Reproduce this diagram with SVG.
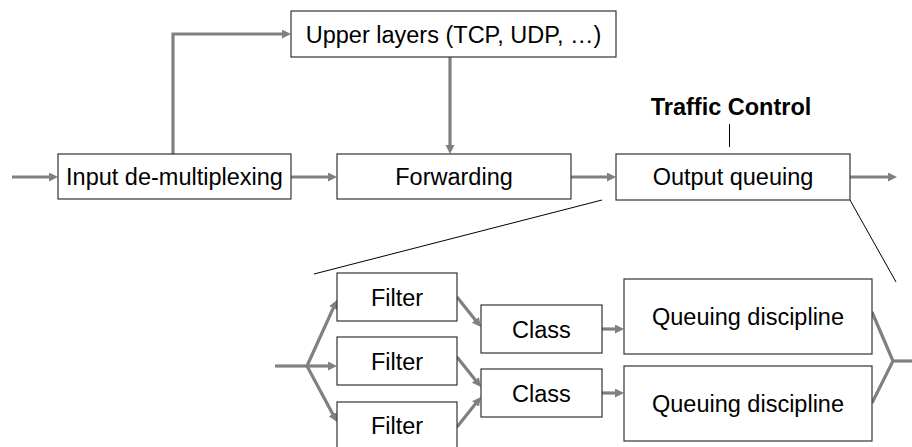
<svg xmlns="http://www.w3.org/2000/svg" width="912" height="447" viewBox="0 0 912 447">
<style>
.box{fill:#fff;stroke:#333;stroke-width:1.2}
.t{font-family:"Liberation Sans",Arial,sans-serif;font-size:23.5px;fill:#000;text-anchor:middle}
.b{font-weight:bold}
.c{fill:none;stroke:#808080;stroke-width:3.2}
.a{marker-end:url(#ah)}
.thin{fill:none;stroke:#000;stroke-width:1}
</style>
<defs>
<marker id="ah" markerUnits="userSpaceOnUse" markerWidth="10" markerHeight="10" refX="5" refY="4.5" orient="auto">
<path d="M0,0 L9,4.5 L0,9 z" fill="#808080"/>
</marker>
</defs>
<rect width="912" height="447" fill="#fff"/>
<g id="connectors">
<line class="c a" x1="12" y1="177" x2="54" y2="177"/>
<polyline class="c a" points="173,154 173,34 287,34"/>
<line class="c a" x1="450" y1="57" x2="450" y2="150"/>
<line class="c a" x1="291" y1="177" x2="333" y2="177"/>
<line class="c a" x1="571" y1="177" x2="612" y2="177"/>
<line class="c a" x1="850" y1="177" x2="893" y2="177"/>
<line class="thin" x1="729.5" y1="124" x2="729.5" y2="147"/>
<line class="thin" x1="314" y1="274" x2="602" y2="200"/>
<line class="thin" x1="850" y1="200" x2="896" y2="282"/>
<line class="c" x1="275" y1="366" x2="307" y2="366"/>
<line class="c a" x1="307" y1="366" x2="335.3" y2="303.6"/>
<line class="c a" x1="307" y1="366" x2="333" y2="366"/>
<line class="c a" x1="307" y1="366" x2="335.1" y2="418.5"/>
<line class="c a" x1="457" y1="297" x2="478.5" y2="323.9"/>
<line class="c a" x1="457" y1="357" x2="478.5" y2="383.9"/>
<line class="c a" x1="457" y1="427" x2="478.5" y2="400.1"/>
<line class="c a" x1="602" y1="329" x2="620" y2="329"/>
<line class="c a" x1="602" y1="393" x2="620" y2="393"/>
<polyline class="c" points="872,312 893,361 872,403"/>
<line class="c" x1="893" y1="361" x2="912" y2="361"/>
</g>
<g id="upper"><rect class="box" x="291" y="11" width="325" height="46"/><text class="t" x="453.5" y="42.5">Upper layers (TCP, UDP, …)</text></g>
<g id="demux"><rect class="box" x="58" y="154" width="233" height="45"/><text class="t" x="174.5" y="185">Input de-multiplexing</text></g>
<g id="forwarding"><rect class="box" x="337" y="154" width="234" height="45"/><text class="t" x="454" y="185">Forwarding</text></g>
<g id="output"><rect class="box" x="616" y="154" width="234" height="46"/><text class="t" x="733" y="185">Output queuing</text></g>
<g id="tc"><text class="t b" x="731" y="115">Traffic Control</text></g>
<g id="filter1"><rect class="box" x="337" y="273" width="120" height="48"/><text class="t" x="397" y="305.5">Filter</text></g>
<g id="filter2"><rect class="box" x="337" y="337" width="120" height="48"/><text class="t" x="397" y="369.5">Filter</text></g>
<g id="filter3"><rect class="box" x="337" y="402" width="120" height="48"/><text class="t" x="397" y="434">Filter</text></g>
<g id="class1"><rect class="box" x="481" y="305" width="121" height="48"/><text class="t" x="541.5" y="337.5">Class</text></g>
<g id="class2"><rect class="box" x="481" y="369" width="121" height="48"/><text class="t" x="541.5" y="401.5">Class</text></g>
<g id="qd1"><rect class="box" x="624" y="279" width="248" height="75"/><text class="t" x="748" y="325">Queuing discipline</text></g>
<g id="qd2"><rect class="box" x="624" y="366" width="248" height="75"/><text class="t" x="748" y="412">Queuing discipline</text></g>
</svg>
